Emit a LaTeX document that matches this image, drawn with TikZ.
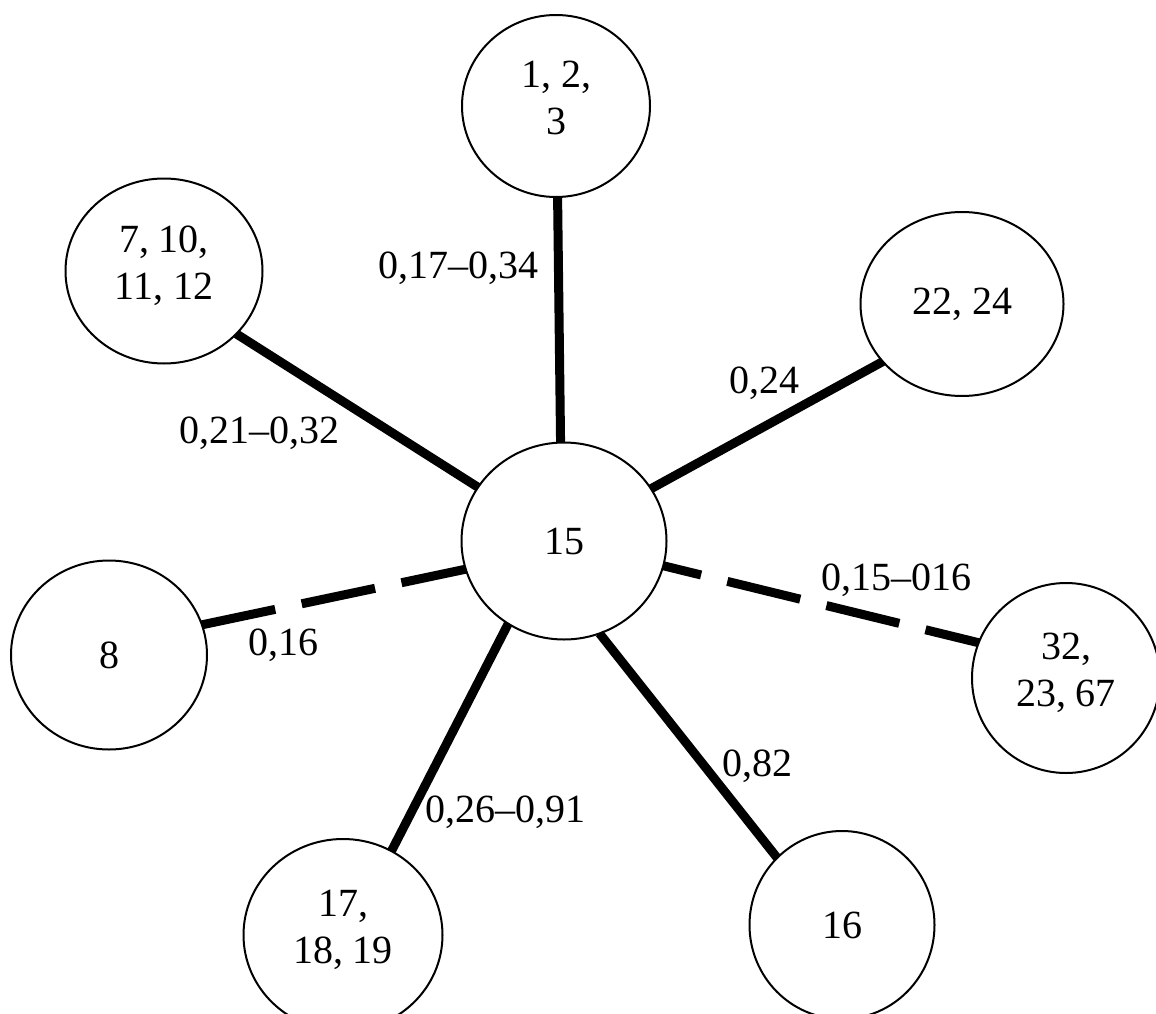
\documentclass[tikz,border=0pt]{standalone}
\usepackage{fontspec}
\setmainfont{Liberation Serif}
\usetikzlibrary{shapes.geometric}
\begin{document}
\begin{tikzpicture}[x=1pt,y=-1pt,
  blob/.style={ellipse, draw, line width=2pt, fill=white, inner sep=0pt,
    outer sep=0pt, align=center, font=\fontsize{40}{47}\selectfont},
  two/.style={text depth=17pt},
  link/.style={line width=9pt},
  dlink/.style={line width=9pt, dash pattern=on 75pt off 27pt},
  lab/.style={font=\fontsize{40}{47}\selectfont, inner sep=0pt}]
\useasboundingbox[fill=white] (0,0) rectangle (1156,1014);

\node[blob, minimum width=205pt, minimum height=197pt] (c) at (564,541) {15};
\node[blob, two, minimum width=188pt, minimum height=182pt] (n123) at (556,106) {1, 2,\\3};
\node[blob, two, minimum width=197pt, minimum height=185pt] (n7) at (164,271) {7, 10,\\11, 12};
\node[blob, minimum width=203pt, minimum height=184pt] (n22) at (962,304) {22, 24};
\node[blob, minimum width=196pt, minimum height=189pt] (n8) at (109,655) {8};
\node[blob, two, minimum width=188pt, minimum height=190pt] (n32) at (1066,678) {32,\\23, 67};
\node[blob, two, minimum width=199pt, minimum height=192pt] (n17) at (343,935) {17,\\18, 19};
\node[blob, minimum width=185pt, minimum height=188pt] (n16) at (842,925) {16};

\draw[link] (n123.271.3) -- (c.92.3);
\draw[link] (n7.319.7) -- (c.148.4);
\draw[link] (n22.216.4) -- (c.31.5);
\draw[dlink] (n8.18.1) -- (c.196.3);
\draw[dlink, dash phase=36pt] (c.346.6) -- (n32.158);
\draw[link] (n17.60.5) -- (c.236.9);
\draw[link] (n16.134.2) -- (c.291);

\node[lab] (l1) at (458,268) {0,17–0,34};
\node[lab] (l2) at (259,433) {0,21–0,32};
\node[lab] (l3) at (764,383) {0,24};
\node[lab] (l4) at (283,645) {0,16};
\node[lab] (l5) at (896,580) {0,15–016};
\node[lab] (l6) at (757,766) {0,82};
\node[lab] (l7) at (505,812) {0,26–0,91};
\end{tikzpicture}
\end{document}
